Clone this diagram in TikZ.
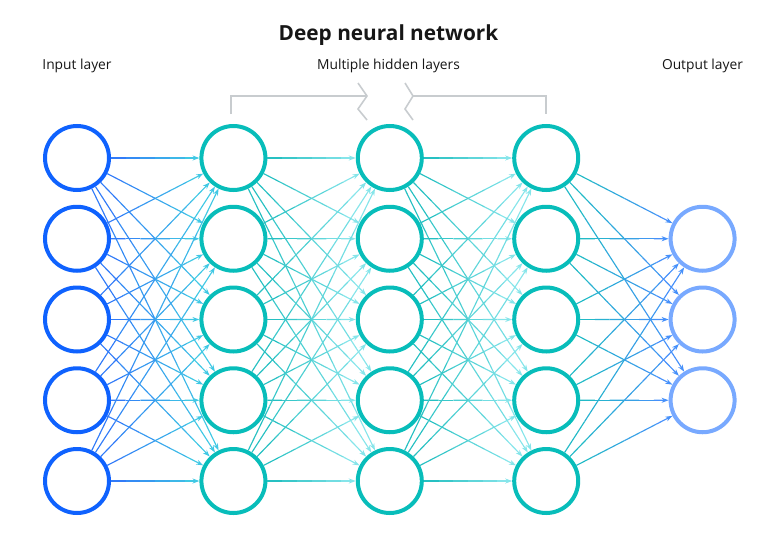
\documentclass[tikz,border=0pt]{standalone}
\usepackage{fontspec}
\setmainfont{Open Sans}
\usetikzlibrary{calc,arrows.meta}
\definecolor{inblue}{HTML}{0F62FE}
\definecolor{hidteal}{HTML}{08BDBA}
\definecolor{outblue}{HTML}{78A9FF}
\definecolor{lnA}{HTML}{2F74FA}
\definecolor{lnB}{HTML}{42CFE2}
\definecolor{lnC}{HTML}{1DBDBE}
\definecolor{lnD}{HTML}{8FE8EE}
\definecolor{lnE}{HTML}{1EBEC2}
\definecolor{lnF}{HTML}{4A8CFF}
\definecolor{brkgray}{HTML}{C8CCCF}
\definecolor{txtdark}{HTML}{161616}
\tikzset{
  neuron/.style={circle, draw, line width=4pt, minimum size=64pt, inner sep=0pt},
  inp/.style={neuron, draw=inblue},
  hid/.style={neuron, draw=hidteal},
  outp/.style={neuron, draw=outblue},
  conn/.style={line width=1.15pt},
  tip/.style={-{Stealth[length=7pt,width=5pt]}},
  brk/.style={draw=brkgray, line width=1.6pt},
  lbl/.style={font=\fontsize{13.8}{16}\selectfont, text=txtdark},
  ttl/.style={font=\fontsize{20.8}{24}\bfseries\selectfont, text=txtdark}
}
\newcommand\gradline[4]{%
  \coordinate (gs) at ($(#1)!34pt!(#2)$);
  \coordinate (ge) at ($(#2)!34pt!(#1)$);
  \foreach \k in {0,...,4}{%
    \pgfmathsetmacro\ta{\k/6}%
    \pgfmathsetmacro\tb{(\k+1)/6}%
    \pgfmathtruncatemacro\pc{round(100*(\k+0.5)/6)}%
    \draw[conn, color=#4!\pc!#3] ($(gs)!\ta!(ge)$) -- ($(gs)!\tb!(ge)$);
  }%
  \draw[conn, tip, color=#4!92!#3] ($(gs)!0.8333!(ge)$) -- (ge);
}
\begin{document}
\begin{tikzpicture}[x=1pt,y=-1pt]
\useasboundingbox (0,0) rectangle (768,546);
% titles
\node[ttl] (title) at (388.5,35) {Deep neural network};
\node[lbl] (linput) at (77,66) {Input layer};
\node[lbl] (lhidden) at (388.5,66) {Multiple hidden layers};
\node[lbl] (loutput) at (702.5,66) {Output layer};
% bracket
\draw[brk] (231,114) -- (231,96) -- (367,96);
\draw[brk] (358,83) -- (367,96) -- (358,109) -- (367,120);
\draw[brk] (405,83) -- (413,96) -- (405,109) -- (413,120);
\draw[brk] (413,96) -- (546,96) -- (546,114);
% nodes
\foreach \i/\y in {1/158,2/238.75,3/319.5,4/400.25,5/481}{
  \node[inp] (i\i) at (77,\y) {};
  \node[hid] (a\i) at (233.4,\y) {};
  \node[hid] (b\i) at (389.8,\y) {};
  \node[hid] (c\i) at (546.2,\y) {};
}
\foreach \i/\y in {1/238.75,2/319.5,3/400.25}{
  \node[outp] (o\i) at (702.6,\y) {};
}
% connections
\foreach \s in {1,...,5}{
  \foreach \t in {1,...,5}{
    \gradline{i\s}{a\t}{lnA}{lnB}
    \gradline{a\s}{b\t}{lnC}{lnD}
    \gradline{b\s}{c\t}{lnC}{lnD}
  }
  \foreach \t in {1,2,3}{
    \gradline{c\s}{o\t}{lnE}{lnF}
  }
}
\end{tikzpicture}
\end{document}
